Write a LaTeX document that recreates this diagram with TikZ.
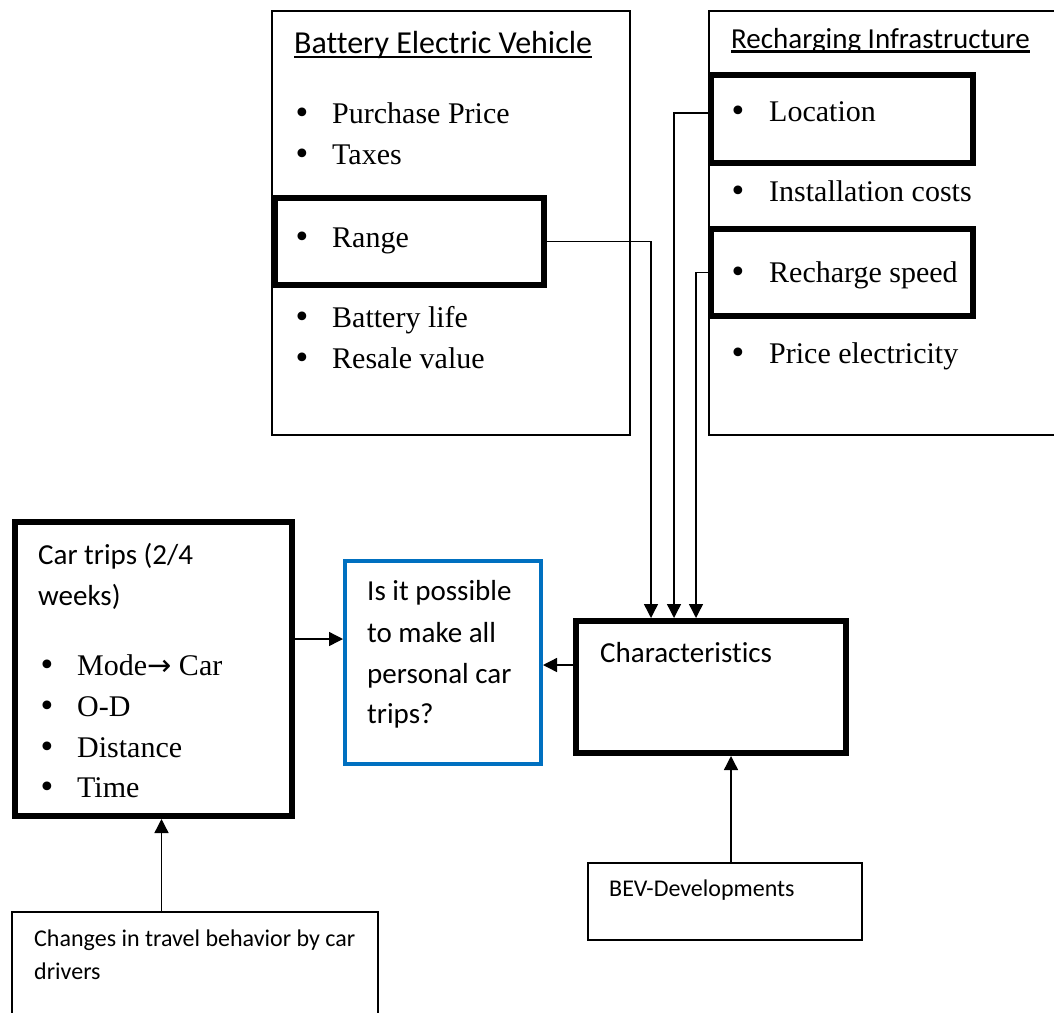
\documentclass[tikz,border=0pt]{standalone}
\usepackage{fontspec}
\setmainfont{Liberation Serif}
\newfontfamily\calfnt[Ligatures={NoCommon}]{Carlito}
\newfontfamily\dvfnt{DejaVu Sans}
\usetikzlibrary{arrows.meta,calc}
\definecolor{wordblue}{HTML}{0070C0}
\tikzset{
  thinbox/.style={draw,line width=1.4pt},
  thickbox/.style={draw,line width=5.5pt},
  arr/.style={line width=1.4pt,-{Triangle[length=14pt,width=14pt]}},
  serif/.style={anchor=base west,inner sep=0pt,font=\fontsize{30}{31}\selectfont},
  calt/.style={anchor=base west,inner sep=0pt,font=\calfnt\fontsize{29}{30}\selectfont},
  cals/.style={anchor=base west,inner sep=0pt,font=\calfnt\fontsize{24}{25}\selectfont},
}
\newcommand{\bul}[1]{\makebox[#1][l]{\dvfnt •}}
\newcommand{\ulx}[2]{\setbox0\hbox{#2}\rlap{\smash{\raisebox{-#1}{\rule{\wd0}{2.4pt}}}}\box0}
\begin{document}
\begin{tikzpicture}[x=1pt,y=-1pt]
\useasboundingbox (0,0) rectangle (1054,1012);
\clip (0,0) rectangle (1054,1012);
% outer boxes
\draw[thinbox] (272,11) rectangle (630,435);
\draw[thinbox] (709,11) rectangle (1070,435);
% Range / Location / Recharge boxes
\node[thickbox,fill=white,outer sep=0pt,anchor=north west,minimum width=269pt,minimum height=87pt] (range) at (275,198) {};
\node[thickbox,fill=white,outer sep=0pt,anchor=north west,minimum width=262pt,minimum height=88pt] (loc) at (711,75) {};
\node[thickbox,fill=white,outer sep=0pt,anchor=north west,minimum width=262pt,minimum height=87pt] (rch) at (711,229) {};
% BEV texts
\node[calt,font=\calfnt\fontsize{32}{33}\selectfont] (bevh) at (294,53) {\ulx{5pt}{Battery Electric Vehicle}};
\node[serif] (pp) at (293,123) {\bul{39pt}Purchase Price};
\node[serif] (tx) at (293,164) {\bul{39pt}Taxes};
\node[serif] (rg) at (293,247) {\bul{39pt}Range};
\node[serif] (bl) at (293,327) {\bul{39pt}Battery life};
\node[serif] (rv) at (293,368) {\bul{39pt}Resale value};
% RI texts
\node[calt,font=\calfnt\fontsize{29}{30}\selectfont] (rih) at (731,48) {\ulx{4.5pt}{Recharging Infrastructure}};
\node[serif] (lc) at (729,121) {\bul{40pt}Location};
\node[serif] (ic) at (729,201) {\bul{40pt}Installation costs};
\node[serif] (rs) at (729,282) {\bul{40pt}Recharge speed};
\node[serif] (pe) at (729,363) {\bul{40pt}Price electricity};
% Car trips
\node[draw,line width=6pt,outer sep=0pt,anchor=north west,minimum width=277pt,minimum height=294pt] (car) at (15,522) {};
\node[calt] (ct1) at (38,564) {Car trips (2/4};
\node[calt] (ct2) at (38,605) {weeks)};
\node[serif] (m1) at (38,675) {\bul{39pt}Mode{\dvfnt\fontsize{29}{29}\selectfont→} Car};
\node[serif] (m2) at (38,716) {\bul{39pt}O-D};
\node[serif] (m3) at (38,757) {\bul{39pt}Distance};
\node[serif] (m4) at (38,797) {\bul{39pt}Time};
% Question
\node[draw=wordblue,line width=4.5pt,outer sep=0pt,anchor=north west,minimum width=196pt,minimum height=203pt] (q) at (345,561) {};
\node[calt] (q1) at (367,600) {Is it possible};
\node[calt] (q2) at (367,642) {to make all};
\node[calt] (q3) at (367,683) {personal car};
\node[calt] (q4) at (367,723) {trips?};
% Characteristics
\node[thickbox,outer sep=0pt,anchor=north west,minimum width=270pt,minimum height=132pt] (char) at (576,621) {};
\node[calt] (chart) at (600,662) {Characteristics};
% BEV developments
\node[thinbox,outer sep=0pt,anchor=north west,minimum width=274pt,minimum height=77pt] (dev) at (588,863) {};
\node[cals] (devt) at (609,896) {BEV-Developments};
% Changes
\node[thinbox,outer sep=0pt,anchor=north west,minimum width=366pt,minimum height=110pt] (chg) at (12,912) {};
\node[cals] (chg1) at (34,946) {Changes in travel behavior by car};
\node[cals] (chg2) at (34,979) {drivers};
% connectors
\coordinate (cr) at ([xshift=75pt]char.north west);
\coordinate (cl) at ([xshift=98pt]char.north west);
\coordinate (cs) at ([xshift=120pt]char.north west);
\draw[arr] (range.east) -| ([yshift=3pt]cr);
\draw[arr] ([yshift=6pt]loc.west) -| ([yshift=3pt]cl);
\draw[arr] (rch.west) -| ([yshift=3pt]cs);
\coordinate (ca) at ([yshift=22pt]char.west);
\draw[arr] ([xshift=-3pt]ca) -- ([xshift=2pt]ca -| q.east);
\coordinate (qa) at ([yshift=30pt]car.east);
\draw[arr] ([xshift=3pt]qa) -- ([xshift=-2pt]qa -| q.west);
\coordinate (cb) at ([xshift=8pt]car.south);
\draw[arr] (chg.north -| cb) -- ([yshift=-3pt]cb);
\coordinate (db) at ([xshift=20pt]char.south);
\draw[arr] (dev.north -| db) -- ([yshift=-3pt]db);
\end{tikzpicture}
\end{document}
